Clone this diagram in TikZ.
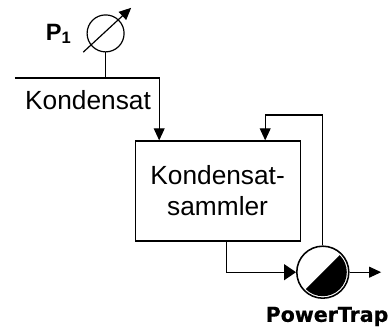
\documentclass[tikz,border=0pt]{standalone}
\usepackage{fontspec}
\setmainfont{Liberation Sans}
\newfontfamily\trapfont[BoldFeatures={FakeBold=0.6}]{DejaVu Sans}
\usetikzlibrary{arrows.meta}
\begin{document}
\begin{tikzpicture}
        [pipe/.style={line width=0.85pt, -{Triangle[length=0.3cm,width=0.27cm]}},
        inlet/.style={line width=0.85pt, -{Triangle[length=0.3cm,width=0.4cm]}},
        plain/.style={line width=0.85pt},
        label/.style={font=\fontsize{18.7}{22}\selectfont, inner sep=0pt, align=center},
        gauge/.style={circle,draw,line width=0.85pt,minimum size=0.925cm,inner sep=0pt},
        pump/.style={circle,draw,line width=1.1pt,minimum size=1.3cm,inner sep=0pt}]
        \useasboundingbox (0,0) rectangle (9.8,8.175);

        \node[gauge] (G) at (2.64,7.34) {};
        \node[font=\fontsize{16.8}{20}\selectfont\bfseries, inner sep=0pt] (P) at (1.47,7.33) {P\textsubscript{1}};
        \node[label] (K) at (2.2,5.68) {Kondensat};
        \node[label,draw,line width=0.85pt,minimum width=4.125cm,minimum height=2.5cm] (S) at (5.44,3.4) {Kondensat-\\sammler};
        \node[pump] (T) at (8.07,1.37) {};
        \node[font=\fontsize{14.6}{16}\selectfont\bfseries\trapfont, inner sep=0pt, anchor=base] (L) at (8.175,0.13) {PowerTrap};

        \coordinate (A) at (2.08,6.87);
        \coordinate (B) at (3.28,7.98);
        \coordinate (C) at (0.375,6.225);
        \coordinate (D) at (3.98,6.225);
        \coordinate (E) at (5.67,2.15);
        \coordinate (F) at (6.63,5.3);
        \coordinate (H) at (9.53,1.37);

        \fill (T.center) ++(45:0.6) arc (45:-135:0.6) -- cycle;

        \draw[pipe] (A) -- (B);
        \draw[plain] (G.south) -- (G.south |- C);
        \draw[pipe] (C) -- (D) -- (D |- S.north);
        \draw[pipe] (T.north) |- (F) -- (F |- S.north);
        \draw[inlet] (E) |- (T.west);
        \draw[pipe] (T.east) -- (H);
    \end{tikzpicture}
\end{document}
